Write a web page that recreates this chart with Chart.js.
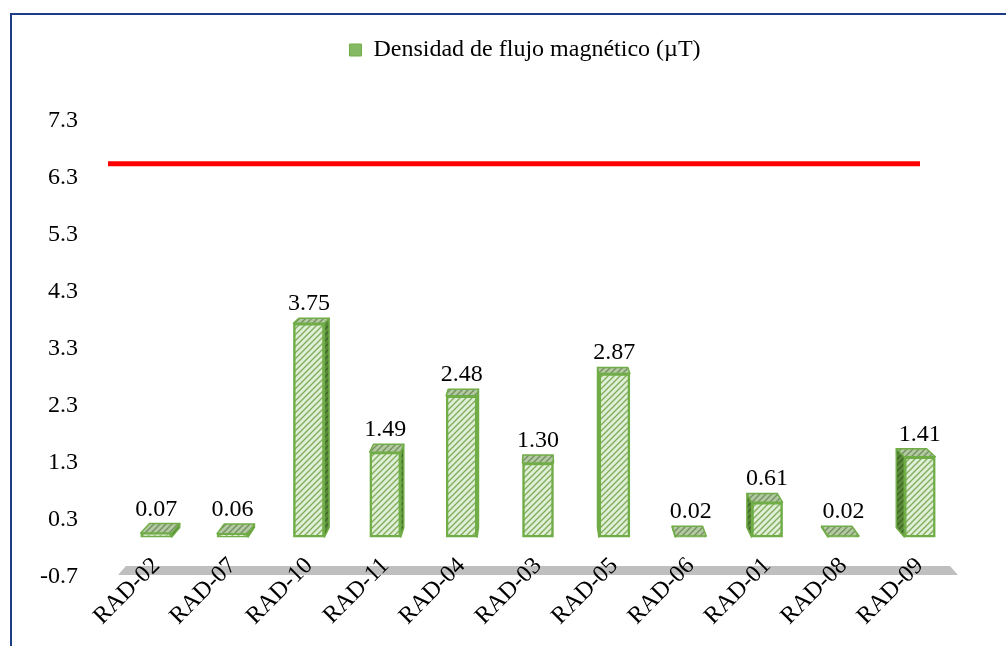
<!DOCTYPE html>
<html>
<head>
<meta charset="utf-8">
<script src="https://cdn.jsdelivr.net/npm/chart.js@4"></script>
<style>
  html, body { margin: 0; padding: 0; background: #fff; overflow: hidden; }
  #wrap { position: relative; width: 1006px; height: 646px; }
  .frame { position: absolute; left: 10px; top: 13px; width: 1200px; height: 900px;
           border: 2px solid #1f3c88; box-sizing: border-box; }
  canvas { position: absolute; left: 0; top: 0; }
</style>
</head>
<body>
<div id="wrap">
  <div class="frame"></div>
  <canvas id="c" width="1006" height="646"></canvas>
</div>
<script>
// Puntos de medición y densidad de flujo magnético medida (µT)
const categorias = ['RAD-02','RAD-07','RAD-10','RAD-11','RAD-04','RAD-03','RAD-05','RAD-06','RAD-01','RAD-08','RAD-09'];
const valores = [0.07, 0.06, 3.75, 1.49, 2.48, 1.30, 2.87, 0.02, 0.61, 0.02, 1.41];
// Marcas del eje vertical
const marcasY = [-0.7, 0.3, 1.3, 2.3, 3.3, 4.3, 5.3, 6.3, 7.3];
// Valor de referencia (línea roja)
const limite = [6.55];
const serie = 'Densidad de flujo magnético (µT)';

const FONT = 'Liberation Serif';
Chart.defaults.font.family = FONT;
Chart.defaults.font.size = 24;
Chart.defaults.color = '#000';

function hatch(bg, fg, lw) {
  const c = document.createElement('canvas');
  c.width = 6; c.height = 6;
  const g = c.getContext('2d');
  g.fillStyle = bg; g.fillRect(0, 0, 6, 6);
  g.strokeStyle = fg; g.lineWidth = lw;
  g.beginPath();
  g.moveTo(0, 6); g.lineTo(6, 0);
  g.moveTo(-3, 3); g.lineTo(3, -3);
  g.moveTo(3, 9); g.lineTo(9, 3);
  g.stroke();
  return g.createPattern(c, 'repeat');
}
const frente = hatch('#e1efd6', '#7fae5e', 1.4);
const tapa = hatch('#b3c9a1', '#748f5f', 1.3);
const lado = hatch('#5a8a3a', '#3c6624', 1.3);
const VERDE = '#70ad47';

// Proyección en perspectiva hacia un punto de fuga sobre el área del gráfico
const T = 0.022;
function fuga(area) { return { x: (area.left + area.right) / 2, y: area.top - 24 }; }
function atras(p, vp, t) { return { x: p.x + (vp.x - p.x) * t, y: p.y + (vp.y - p.y) * t }; }
function poly(ctx, pts, fill, stroke, lw) {
  ctx.beginPath();
  ctx.moveTo(pts[0].x, pts[0].y);
  for (let i = 1; i < pts.length; i++) ctx.lineTo(pts[i].x, pts[i].y);
  ctx.closePath();
  ctx.fillStyle = fill; ctx.fill();
  if (stroke) { ctx.strokeStyle = stroke; ctx.lineWidth = lw; ctx.lineJoin = 'round'; ctx.stroke(); }
}

// Piso gris del gráfico 3D
const piso3d = {
  id: 'piso3d',
  beforeDraw(chart) {
    const { ctx, chartArea: a, scales: { y } } = chart;
    const vp = fuga(a);
    const yf = y.getPixelForValue(marcasY[0]) - 2;
    const p1 = { x: a.left, y: yf }, p2 = { x: a.right, y: yf };
    ctx.save();
    poly(ctx, [p1, p2, atras(p2, vp, 0.019), atras(p1, vp, 0.019)], '#bfbfbf');
    ctx.restore();
  }
};

// Caras superior y lateral de cada barra, etiquetas de valor y línea de referencia
const barras3d = {
  id: 'barras3d',
  afterDatasetsDraw(chart) {
    const { ctx, chartArea: a, scales: { y } } = chart;
    const vp = fuga(a);
    const meta = chart.getDatasetMeta(0);
    ctx.save();
    meta.data.forEach((bar, i) => {
      const p = bar.getProps(['x', 'y', 'base', 'width'], true);
      const L = p.x - p.width / 2, R = p.x + p.width / 2;
      const top = Math.min(p.y, p.base), bot = Math.max(p.y, p.base);
      const tl = { x: L, y: top }, tr = { x: R, y: top };
      const bl = { x: L, y: bot }, br = { x: R, y: bot };
      if (p.x < vp.x - 2) {
        poly(ctx, [tr, br, atras(br, vp, T), atras(tr, vp, T)], lado, VERDE, 1.5);
      } else if (p.x > vp.x + 2) {
        poly(ctx, [tl, bl, atras(bl, vp, T), atras(tl, vp, T)], lado, VERDE, 1.5);
      }
      const btl = atras(tl, vp, T), btr = atras(tr, vp, T);
      poly(ctx, [tl, tr, btr, btl], tapa, VERDE, 1.5);
      ctx.fillStyle = '#000';
      ctx.font = '24px "' + FONT + '"';
      ctx.textAlign = 'center';
      ctx.textBaseline = 'alphabetic';
      ctx.fillText(valores[i].toFixed(2), p.x, Math.min(btl.y, btr.y) - 8);
    });
    const yl = y.getPixelForValue(limite[0]);
    ctx.strokeStyle = '#ff0000';
    ctx.lineWidth = 5;
    ctx.beginPath();
    ctx.moveTo(a.left - 10, yl);
    ctx.lineTo(a.right - 38, yl);
    ctx.stroke();
    ctx.restore();
  }
};

// Rótulos de categoría inclinados 45°, apoyados sobre el piso
const rotulosX = {
  id: 'rotulosX',
  afterDraw(chart) {
    const { ctx, chartArea: a, scales: { x } } = chart;
    ctx.save();
    ctx.fillStyle = '#000';
    ctx.font = '24px "' + FONT + '"';
    ctx.textAlign = 'right';
    ctx.textBaseline = 'middle';
    chart.data.labels.forEach((lab, i) => {
      const px = x.getPixelForTick(i);
      ctx.save();
      ctx.translate(px, a.bottom - 15);
      ctx.rotate(-Math.PI / 4);
      ctx.fillText(lab, 0, 0);
      ctx.restore();
    });
    ctx.restore();
  }
};

// Leyenda desplazada sobre el área de las barras
const leyenda = {
  id: 'leyenda',
  afterLayout(chart) {
    const lg = chart.legend;
    if (!lg) return;
    const dx = 26, dy = -49;
    lg.left += dx; lg.right += dx;
    lg.top += dy; lg.bottom += dy;
  }
};

new Chart(document.getElementById('c'), {
  type: 'bar',
  data: {
    labels: categorias,
    datasets: [{
      label: serie,
      data: valores,
      backgroundColor: frente,
      borderColor: VERDE,
      borderWidth: 2.5,
      barThickness: 31,
      borderSkipped: false
    }]
  },
  options: {
    responsive: false,
    animation: false,
    events: [],
    layout: { padding: { left: 40, right: 48, top: 77, bottom: 69 } },
    plugins: {
      tooltip: { enabled: false },
      legend: {
        position: 'top',
        labels: {
          boxWidth: 12, boxHeight: 12, padding: 10, font: { size: 24 },
          generateLabels(chart) {
            const items = Chart.defaults.plugins.legend.labels.generateLabels(chart);
            items.forEach(it => { it.fillStyle = '#86b964'; it.lineWidth = 1; it.strokeStyle = VERDE; });
            return items;
          }
        }
      }
    },
    scales: {
      x: {
        grid: { display: false, drawTicks: false },
        border: { display: false },
        ticks: { display: false },
        afterFit(s) { s.height = 0; s.paddingLeft = 0; s.paddingRight = 0; }
      },
      y: {
        min: marcasY[0],
        max: marcasY[marcasY.length - 1],
        afterBuildTicks(s) { s.ticks = marcasY.map(v => ({ value: v })); },
        afterFit(s) { s.width = 78; },
        grid: { display: false, drawTicks: false },
        border: { display: false },
        ticks: { padding: 40, font: { size: 24 }, callback: v => Number(v).toFixed(1) }
      }
    }
  },
  plugins: [piso3d, barras3d, rotulosX, leyenda]
});
</script>
</body>
</html>
